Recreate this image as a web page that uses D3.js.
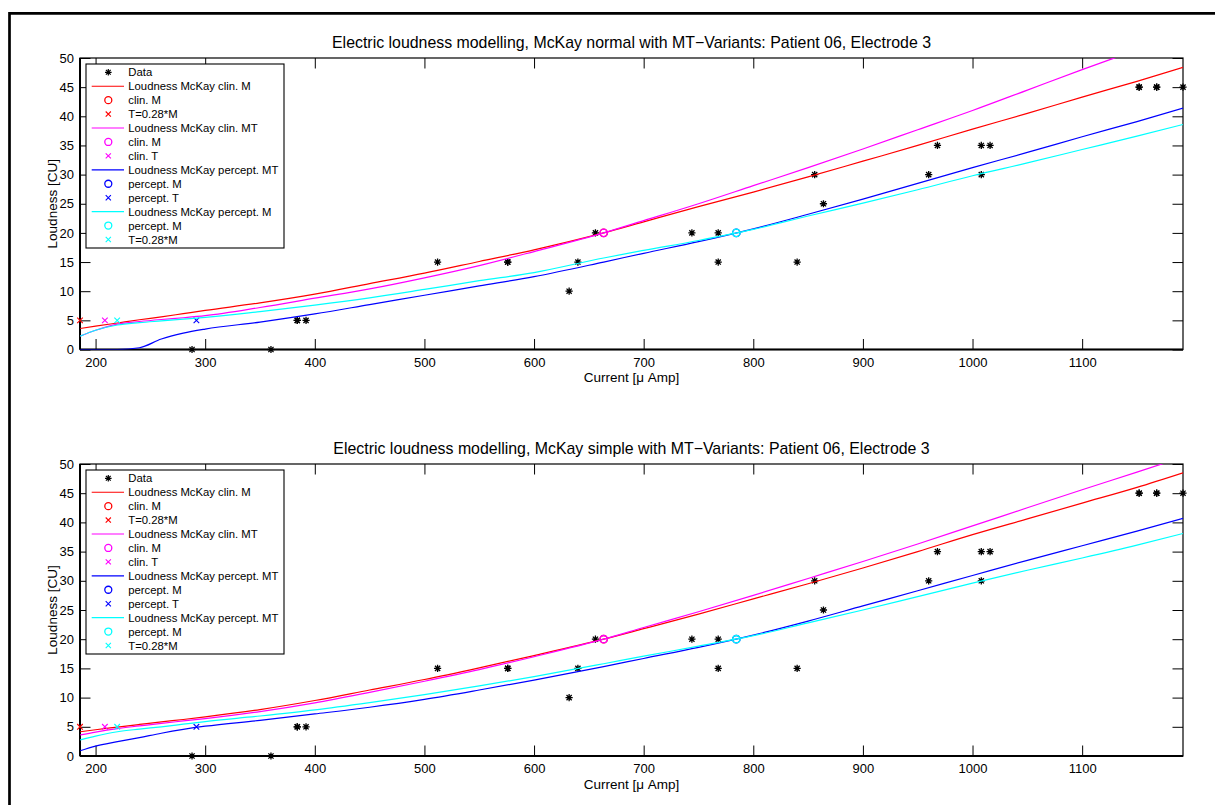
<!DOCTYPE html>
<html><head><meta charset="utf-8">
<script src="https://cdn.jsdelivr.net/npm/d3@7"></script>
<style>
body{margin:0;background:#fff;}
text{font-family:"Liberation Sans",Arial,Helvetica,sans-serif;fill:#000;}
</style>
</head><body>
<svg id="c" width="1215" height="805"></svg>
<script>
// ---------- data ----------
const dataCurrent  = [288, 360, 384, 384, 392, 512, 576, 576, 632, 640, 656, 744, 768, 768, 840, 856, 864, 960, 968, 1008, 1016, 1008, 1152, 1152, 1168, 1168, 1192];
const dataLoudness = [0,   0,   5,   5,   5,   15,  15,  15,  10,  15,  20,  20,  20,  15,  15,  30,  25,  30,  35,  35,   35,   30,   45,   45,   45,   45,   45];

const curveCurrent = [186, 200, 220, 240, 260, 280, 300, 350, 400, 450, 500, 550, 600, 663.5, 700, 750, 800, 850, 900, 950, 1000, 1050, 1100, 1150, 1192];

// McKay normal (top panel)
const normalClinM       = [3.6, 4.0, 4.55, 5.1, 5.6, 6.15, 6.7, 8.0, 9.5, 11.3, 13.1, 15.1, 17.1, 20.0, 21.9, 24.5, 27.0, 29.6, 32.3, 35.0, 37.8, 40.5, 43.3, 46.0, 48.4];
const normalClinMT      = [2.3, 3.3, 4.35, 4.8, 5.15, 5.45, 5.8, 7.2, 8.8, 10.4, 12.3, 14.4, 16.8, 20.0, 22.1, 25.0, 28.1, 31.2, 34.4, 37.7, 41.0, 44.5, 48.0, 51.4, 54.3];
const normalPerceptMT   = [0, 0, 0, 0.3, 1.8, 2.8, 3.5, 4.7, 6.1, 7.7, 9.3, 10.9, 12.5, 15.0, 16.5, 18.5, 20.7, 23.2, 25.8, 28.5, 31.2, 33.8, 36.5, 39.1, 41.4];
const normalPerceptM    = [2.3, 3.3, 4.2, 4.6, 4.9, 5.2, 5.5, 6.5, 7.6, 8.85, 10.3, 11.8, 13.2, 15.7, 17.0, 18.7, 20.6, 22.9, 25.1, 27.4, 29.8, 32.0, 34.3, 36.6, 38.6];

// McKay simple (bottom panel)
const simpleClinM       = [4.15, 4.5, 4.95, 5.4, 5.85, 6.25, 6.7, 7.95, 9.5, 11.3, 13.1, 15.1, 17.2, 20.0, 21.8, 24.3, 26.9, 29.5, 32.2, 35.0, 37.9, 40.6, 43.3, 46.0, 48.5];
const simpleClinMT      = [3.6, 4.1, 4.7, 5.15, 5.6, 6.0, 6.4, 7.6, 9.1, 10.9, 12.8, 14.8, 17.0, 20.0, 22.0, 24.7, 27.5, 30.4, 33.3, 36.3, 39.4, 42.5, 45.6, 48.6, 51.2];
const simplePerceptMT   = [0.9, 1.7, 2.45, 3.15, 3.9, 4.55, 5.1, 6.1, 7.2, 8.35, 9.7, 11.3, 13.0, 15.3, 16.7, 18.6, 20.7, 23.1, 25.7, 28.3, 30.9, 33.5, 36.0, 38.5, 40.7];
const simplePerceptMT2  = [2.75, 3.4, 4.15, 4.6, 5.0, 5.45, 5.9, 6.85, 7.9, 9.15, 10.5, 12.0, 13.6, 15.8, 17.1, 18.8, 20.6, 22.8, 25.0, 27.3, 29.6, 31.8, 33.9, 36.1, 38.1];

// threshold / comfort markers: [current, loudness]
const clinM      = [663.5, 20];
const perceptM   = [784.5, 20];
const clinT028   = [185.8, 5];
const clinT      = [208.5, 5];
const perceptT   = [292, 5];
const perceptT028= [219.7, 5];

const xTicks = [200, 300, 400, 500, 600, 700, 800, 900, 1000, 1100];
const yTicks = [0, 5, 10, 15, 20, 25, 30, 35, 40, 45, 50];
const xDomain = [185.8, 1192];
const yDomain = [0, 50];

const titles = [
  "Electric loudness modelling, McKay normal with MT\u2212Variants: Patient 06, Electrode 3",
  "Electric loudness modelling, McKay simple with MT\u2212Variants: Patient 06, Electrode 3"
];
const legendNormal = ["Data","Loudness McKay clin. M","clin. M","T=0.28*M","Loudness McKay clin. MT","clin. M","clin. T",
  "Loudness McKay percept. MT","percept. M","percept. T","Loudness McKay percept. M","percept. M","T=0.28*M"];
const legendSimple = ["Data","Loudness McKay clin. M","clin. M","T=0.28*M","Loudness McKay clin. MT","clin. M","clin. T",
  "Loudness McKay percept. MT","percept. M","percept. T","Loudness McKay percept. MT","percept. M","T=0.28*M"];

const RED="#ff0000", MAG="#ff00ff", BLUE="#0000ff", CYAN="#00ffff";

const panels = [
  {top:58, bottom:349.5, title:titles[0], legend:legendNormal,
   curves:[normalClinM, normalClinMT, normalPerceptMT, normalPerceptM]},
  {top:464, bottom:756, title:titles[1], legend:legendSimple,
   curves:[simpleClinM, simpleClinMT, simplePerceptMT, simplePerceptMT2]}
];

// ---------- drawing ----------
const svg = d3.select("#c");
svg.append("rect").attr("width",1215).attr("height",805).attr("fill","#fff");
// outer frame (top & left edges visible)
svg.append("path").attr("d","M9.5,805 L9.5,13.3 L1215,13.3").attr("fill","none").attr("stroke","#000").attr("stroke-width",2.7);

const L = 80, R = 1183;

function starPath(r){
  const d = r*0.72;
  return `M${-r},0L${r},0M0,${-r}L0,${r}M${-d},${-d}L${d},${d}M${-d},${d}L${d},${-d}`;
}
function crossPath(r){
  return `M${-r},${-r}L${r},${r}M${-r},${r}L${r},${-r}`;
}

panels.forEach((p, pi) => {
  const x = d3.scaleLinear().domain(xDomain).range([L, R]);
  const y = d3.scaleLinear().domain(yDomain).range([p.bottom, p.top]);
  const g = svg.append("g");
  const clipId = "clip"+pi;
  g.append("clipPath").attr("id",clipId).append("rect")
    .attr("x",L).attr("y",p.top).attr("width",R-L).attr("height",p.bottom-p.top);

  // axes with inward ticks
  const tick = 10.5;
  const xb = g.append("g").attr("transform",`translate(0,${p.bottom})`)
    .call(d3.axisBottom(x).tickValues(xTicks).tickSize(-tick).tickPadding(5).tickFormat(d3.format("d")));
  const xt = g.append("g").attr("transform",`translate(0,${p.top})`)
    .call(d3.axisTop(x).tickValues(xTicks).tickSize(-tick).tickFormat(""));
  const yl = g.append("g").attr("transform",`translate(${L},0)`)
    .call(d3.axisLeft(y).tickValues(yTicks).tickSize(-tick).tickPadding(6).tickFormat(d3.format("d")));
  const yr = g.append("g").attr("transform",`translate(${R},0)`)
    .call(d3.axisRight(y).tickValues(yTicks).tickSize(-tick).tickFormat(""));
  [xb,xt,yl,yr].forEach(a=>{
    a.select(".domain").remove();
    a.selectAll(".tick line").attr("stroke","#000").attr("stroke-width",1);
    a.selectAll("text").attr("font-size",13).attr("fill","#000")
      .attr("font-family",'"Liberation Sans",Arial,sans-serif');
  });
  xb.selectAll("text").attr("dy","0.95em");
  // box
  g.append("rect").attr("x",L).attr("y",p.top).attr("width",R-L).attr("height",p.bottom-p.top)
    .attr("fill","none").attr("stroke","#000").attr("stroke-width",1.2);
  g.append("line").attr("x1",L).attr("x2",R).attr("y1",p.bottom).attr("y2",p.bottom).attr("stroke","#000").attr("stroke-width",2);
  g.append("line").attr("x1",L).attr("x2",L).attr("y1",p.top).attr("y2",p.bottom).attr("stroke","#000").attr("stroke-width",2);

  // title and labels
  g.append("text").attr("x",(L+R)/2).attr("y",p.top-9.8).attr("text-anchor","middle")
    .attr("font-size",15.9).text(p.title);
  g.append("text").attr("x",(L+R)/2).attr("y",p.bottom+32.5).attr("text-anchor","middle")
    .attr("font-size",13.5).text("Current [\u03bc Amp]");
  g.append("text").attr("transform",`translate(57,${(p.top+p.bottom)/2}) rotate(-90)`)
    .attr("text-anchor","middle").attr("font-size",13.5).text("Loudness [CU]");

  // data stars
  g.append("g").selectAll("path").data(dataCurrent.map((c,i)=>[c,dataLoudness[i]])).join("path")
    .attr("d",starPath(3.6)).attr("transform",d=>`translate(${x(d[0])},${y(d[1])})`)
    .attr("stroke","#000").attr("stroke-width",1.3).attr("fill","none");

  const line = d3.line().x((d,i)=>x(curveCurrent[i])).y(d=>y(d)).curve(d3.curveMonotoneX);
  const colors = [RED, MAG, BLUE, CYAN];
  const circ = [clinM, clinM, perceptM, perceptM];
  const crosses = [clinT028, clinT, perceptT, perceptT028];
  colors.forEach((col, k) => {
    g.append("path").attr("d", line(p.curves[k])).attr("clip-path",`url(#${clipId})`)
      .attr("fill","none").attr("stroke",col).attr("stroke-width",1.2);
    g.append("circle").attr("cx",x(circ[k][0])).attr("cy",y(circ[k][1])).attr("r",3.7)
      .attr("fill","none").attr("stroke",col).attr("stroke-width",1.3);
    g.append("path").attr("d",crossPath(2.8))
      .attr("transform",`translate(${x(crosses[k][0])},${y(crosses[k][1])})`)
      .attr("stroke",col).attr("stroke-width",1.1).attr("fill","none");
  });

  // legend
  const lg = g.append("g");
  const lx = L+6, ly = p.top+6, lw = 198, lh = 184;
  lg.append("rect").attr("x",lx).attr("y",ly).attr("width",lw).attr("height",lh)
    .attr("fill","#fff").attr("stroke","#000").attr("stroke-width",1.1);
  const kinds = ["star","line","circle","cross","line","circle","cross","line","circle","cross","line","circle","cross"];
  const kcol = ["#000",RED,RED,RED,MAG,MAG,MAG,BLUE,BLUE,BLUE,CYAN,CYAN,CYAN];
  p.legend.forEach((lab, i) => {
    const yy = ly + 8.3 + i*13.93;
    const mx = lx + 22.3;
    if (kinds[i]==="star") lg.append("path").attr("d",starPath(3.3)).attr("transform",`translate(${mx},${yy})`).attr("stroke","#000").attr("stroke-width",1.2);
    if (kinds[i]==="line") lg.append("line").attr("x1",lx+5.7).attr("x2",lx+38).attr("y1",yy).attr("y2",yy).attr("stroke",kcol[i]).attr("stroke-width",1.2);
    if (kinds[i]==="circle") lg.append("circle").attr("cx",mx).attr("cy",yy).attr("r",3.5).attr("fill","none").attr("stroke",kcol[i]).attr("stroke-width",1.3);
    if (kinds[i]==="cross") lg.append("path").attr("d",crossPath(2.6)).attr("transform",`translate(${mx},${yy})`).attr("stroke",kcol[i]).attr("stroke-width",1.1);
    lg.append("text").attr("x",lx+42.3).attr("y",yy).attr("dy","0.36em").attr("font-size",11.3).text(lab);
  });
});
</script>
</body></html>
